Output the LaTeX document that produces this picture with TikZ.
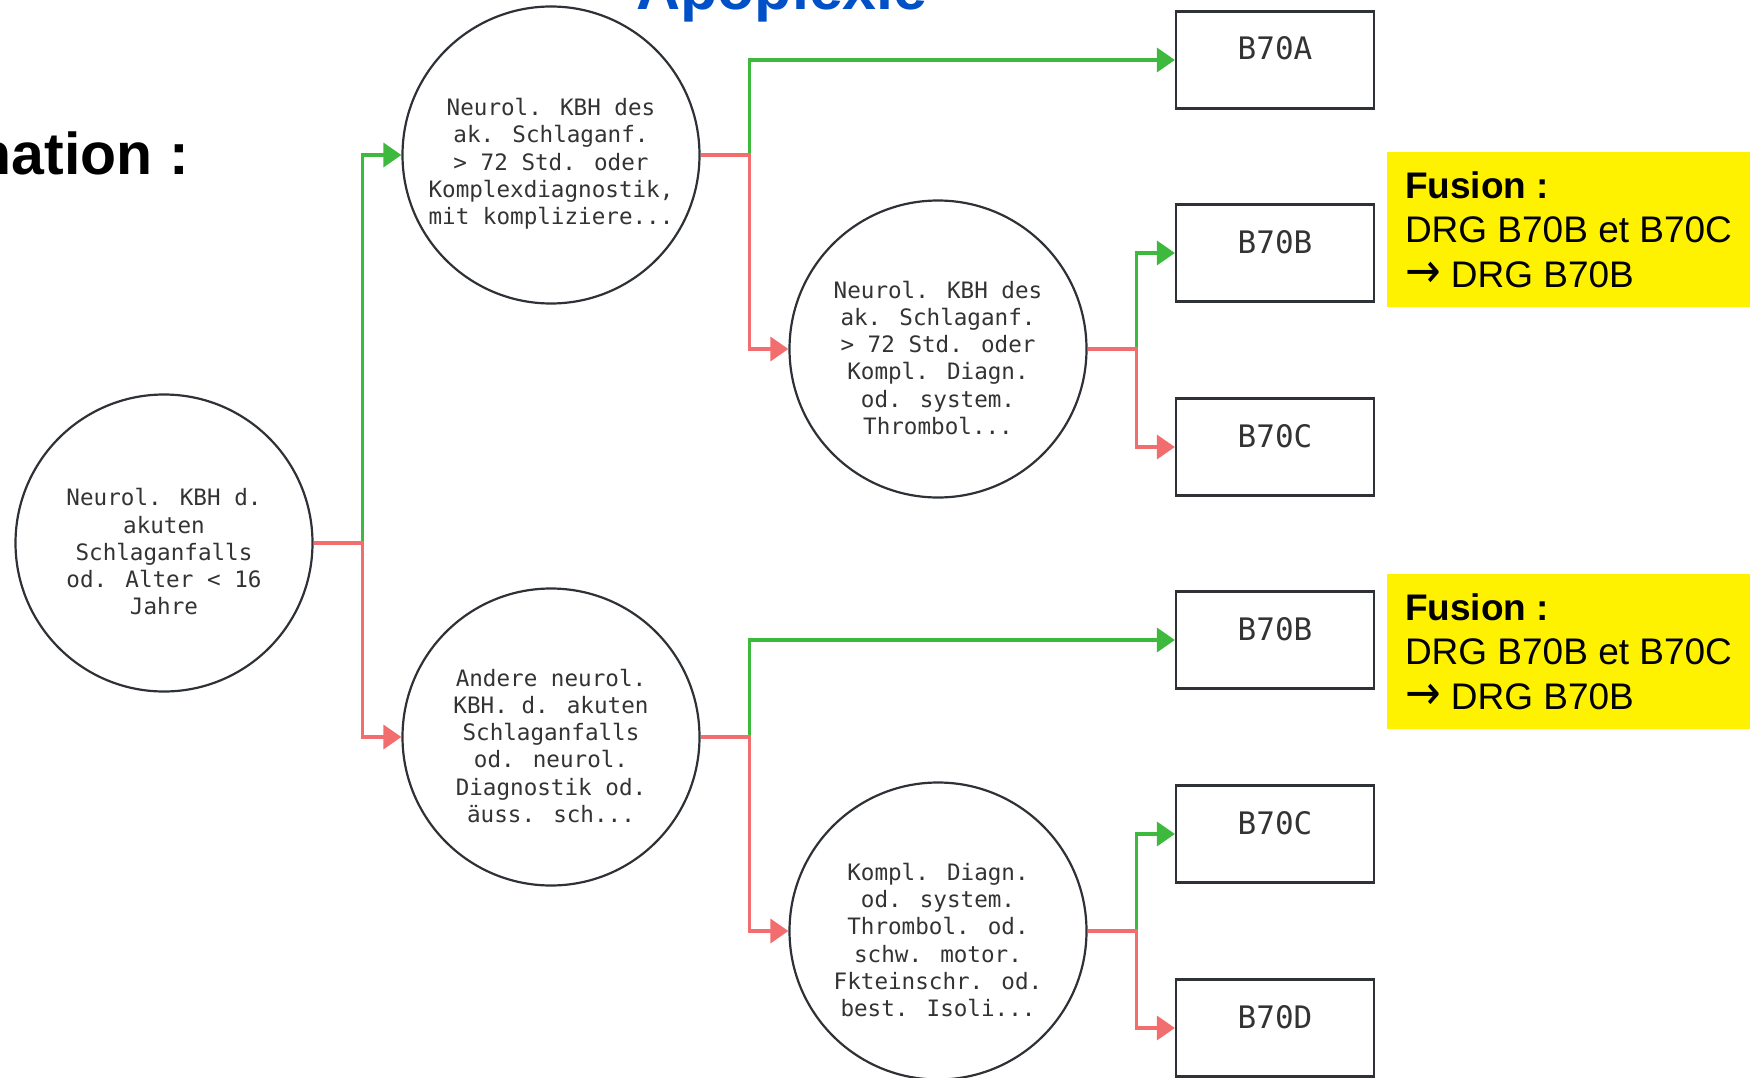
\documentclass[tikz,border=0pt]{standalone}
\usepackage{fontspec}
\setmainfont{Liberation Sans}
\newfontfamily\monofont{DejaVu Sans Mono}
\newfontfamily\arrowfont{DejaVu Sans}
\usetikzlibrary{arrows.meta}
\definecolor{yesgreen}{HTML}{3DBA3D}
\definecolor{nored}{HTML}{F26E6E}
\definecolor{edgegray}{HTML}{2E3236}
\definecolor{textgray}{HTML}{333333}
\definecolor{titleblue}{HTML}{0050C8}
\newcommand{\padtop}{\rule{0pt}{35pt}}
\begin{document}
\begin{tikzpicture}[x=1pt,y=-1pt]
    \tikzstyle{test} = [circle, draw=edgegray, line width=2.2pt, minimum size=297pt, inner sep=0pt, text centered, align=center, text=textgray, font=\monofont\fontsize{22.6}{27.3}\selectfont]
    \tikzstyle{drg} = [rectangle, draw=edgegray, line width=2.2pt, minimum width=198pt, minimum height=97pt, inner sep=0pt, text=textgray, text height=20pt, text depth=20pt, font=\monofont\fontsize{31}{36}\selectfont]
    \tikzstyle{fusion} = [rectangle, fill=yellow, minimum width=363pt, minimum height=155pt, inner xsep=18.5pt, align=left, font=\fontsize{37}{44.5}\selectfont]
    \tikzstyle{yes} = [yesgreen, line width=3.5pt, -{Triangle[length=18pt,width=24pt]}]
    \tikzstyle{no} = [nored, line width=3.5pt, -{Triangle[length=18pt,width=24pt]}]

      \useasboundingbox (0,0) rectangle (1750,1078);
      \clip (0,0) rectangle (1750,1078);

      \draw
        (636, 10) node[anchor=base west, inner sep=0pt, text=titleblue, font=\fontsize{61}{70}\selectfont\bfseries] (title){Apoplexie}
        (189, 175) node[anchor=base east, inner sep=0pt, font=\fontsize{59}{70}\selectfont\bfseries] (head){nation :}
        (164, 543) node[test] (0){\padtop Neurol. KBH d.\\akuten\\Schlaganfalls\\od. Alter < 16\\Jahre}
        (551, 155) node[test] (1){\padtop Neurol. KBH des\\ak. Schlaganf.\\> 72 Std. oder\\Komplexdiagnostik,\\mit kompliziere...}
        (551, 737) node[test] (2){\padtop Andere neurol.\\KBH. d. akuten\\Schlaganfalls\\od. neurol.\\Diagnostik od.\\äuss. sch...}
        (938, 349) node[test] (3){\padtop Neurol. KBH des\\ak. Schlaganf.\\> 72 Std. oder\\Kompl. Diagn.\\od. system.\\Thrombol...}
        (938, 931) node[test] (4){\padtop Kompl. Diagn.\\od. system.\\Thrombol. od.\\schw. motor.\\Fkteinschr. od.\\best. Isoli...}
        (1275, 60) node[drg] (5){B70A}
        (1275, 253) node[drg] (6){B70B}
        (1275, 447) node[drg] (7){B70C}
        (1275, 640) node[drg] (8){B70B}
        (1275, 834) node[drg] (9){B70C}
        (1275, 1028) node[drg] (10){B70D}
        (1568.5, 229.5) node[fusion] (11){\textbf{Fusion :}\\DRG B70B et B70C\\{\arrowfont\scalebox{1.15}[1.3]{→}} DRG B70B}
        (1568.5, 651.5) node[fusion] (12){\textbf{Fusion :}\\DRG B70B et B70C\\{\arrowfont\scalebox{1.15}[1.3]{→}} DRG B70B};

      \begin{scope}
        \draw[yes] (0.east) -- ++(49,0) |- (1.west);
        \draw[no] (0.east) -- ++(49,0) |- (2.west);
        \draw[yes] (1.east) -- ++(49,0) |- (5.west);
        \draw[no] (1.east) -- ++(49,0) |- (3.west);
        \draw[yes] (3.east) -- ++(49,0) |- (6.west);
        \draw[no] (3.east) -- ++(49,0) |- (7.west);
        \draw[yes] (2.east) -- ++(49,0) |- (8.west);
        \draw[no] (2.east) -- ++(49,0) |- (4.west);
        \draw[yes] (4.east) -- ++(49,0) |- (9.west);
        \draw[no] (4.east) -- ++(49,0) |- (10.west);
      \end{scope}
    \end{tikzpicture}
\end{document}
